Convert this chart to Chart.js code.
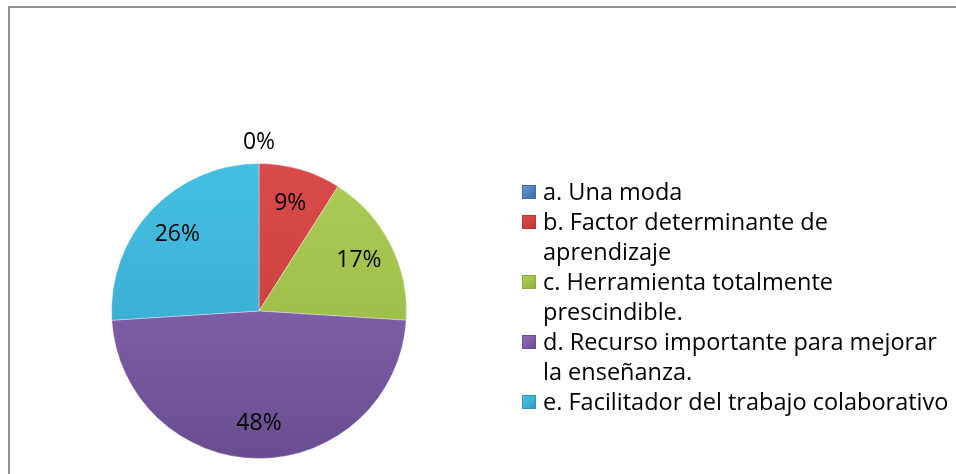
<!DOCTYPE html>
<html>
<head>
<meta charset="utf-8">
<script src="https://cdn.jsdelivr.net/npm/chart.js@4"></script>
<style>
  body { margin: 0; background: #fff; }
  #wrap { position: relative; width: 956px; height: 474px; overflow: hidden; }
  #frame { position: absolute; left: 8px; top: 6px; width: 960px; height: 480px;
           border-top: 2px solid #8f8f8f; border-left: 2px solid #8f8f8f; }
  #box { position: absolute; left: 0; top: 0; width: 956px; height: 474px; }
  #legend { position: absolute; left: 522px; top: 176px; font-family: "Open Sans", Lato, sans-serif;
            font-size: 23.5px; color: #000; }
  .item { display: flex; align-items: flex-start; line-height: 30px; }
  .mark { width: 14px; height: 14px; margin-top: 9px; margin-right: 7px; flex: none;
          box-sizing: border-box; }
</style>
</head>
<body>
<div id="wrap">
  <div id="frame"></div>
  <div id="box"><canvas id="MyChart"></canvas></div>
  <div id="legend"></div>
</div>
<script>
const categories = [
  ['a. Una moda'],
  ['b. Factor determinante de', 'aprendizaje'],
  ['c. Herramienta totalmente', 'prescindible.'],
  ['d. Recurso importante para mejorar', 'la enseñanza.'],
  ['e. Facilitador del trabajo colaborativo']
];

const shares = [0, 9, 17, 48, 26];

const sliceColors = ['#4f81bd', '#cd4241', '#a0c04c', '#7d5ea6', '#3cb2d4'];
const lightColors = ['#6a98d2', '#d94b4a', '#abcc55', '#8b6bb6', '#44bfe2'];
const darkColors  = ['#3d6ba3', '#bd3636', '#8eab3c', '#6a4c90', '#2e98b8'];

function sliceFill(ctx) {
  const chart = ctx.chart;
  const area = chart.chartArea;
  const i = ctx.dataIndex;
  if (!area) return sliceColors[i];
  const g = chart.ctx.createLinearGradient(0, area.top, 0, area.bottom);
  g.addColorStop(0, lightColors[i]);
  g.addColorStop(0.5, sliceColors[i]);
  g.addColorStop(1, darkColors[i]);
  return g;
}

// percent labels, the 0 slice gets its label outside the pie
const pctLabels = {
  id: 'pctLabels',
  afterDatasetsDraw(chart) {
    const ctx = chart.ctx;
    const meta = chart.getDatasetMeta(0);
    ctx.save();
    ctx.font = '23px "Open Sans", Lato, sans-serif';
    ctx.fillStyle = '#000';
    ctx.textAlign = 'center';
    ctx.textBaseline = 'middle';
    meta.data.forEach((arc, i) => {
      const p = arc.getProps(['x', 'y', 'startAngle', 'endAngle', 'outerRadius'], true);
      const mid = (p.startAngle + p.endAngle) / 2;
      const r = shares[i] === 0 ? p.outerRadius + 21 : p.outerRadius * 0.76;
      ctx.fillText(shares[i] + '%', p.x + Math.cos(mid) * r, p.y + Math.sin(mid) * r);
    });
    ctx.restore();
  }
};

const data = {
  labels: categories,
  datasets: [{
    data: shares,
    backgroundColor: sliceFill,
    borderColor: 'rgba(255,255,255,0.35)',
    borderWidth: 1
  }]
};

const config = {
  type: 'pie',
  data: data,
  options: {
    responsive: true,
    maintainAspectRatio: false,
    animation: false,
    layout: { padding: { left: 111, right: 549, top: 163, bottom: 15 } },
    plugins: {
      legend: { display: false },
      tooltip: { enabled: false }
    }
  },
  plugins: [pctLabels]
};

const myChart = new Chart(document.getElementById('MyChart'), config);

// legend next to the pie, built from the chart labels
const legendBox = document.getElementById('legend');
categories.forEach((lines, i) => {
  const item = document.createElement('div');
  item.className = 'item';
  const mark = document.createElement('span');
  mark.className = 'mark';
  mark.style.background = 'linear-gradient(135deg, ' + lightColors[i] + ', ' + sliceColors[i] + ' 55%, ' + darkColors[i] + ')';
  mark.style.border = '1px solid ' + darkColors[i];
  const txt = document.createElement('span');
  txt.innerHTML = lines.join('<br>');
  item.appendChild(mark);
  item.appendChild(txt);
  legendBox.appendChild(item);
});
</script>
</body>
</html>
